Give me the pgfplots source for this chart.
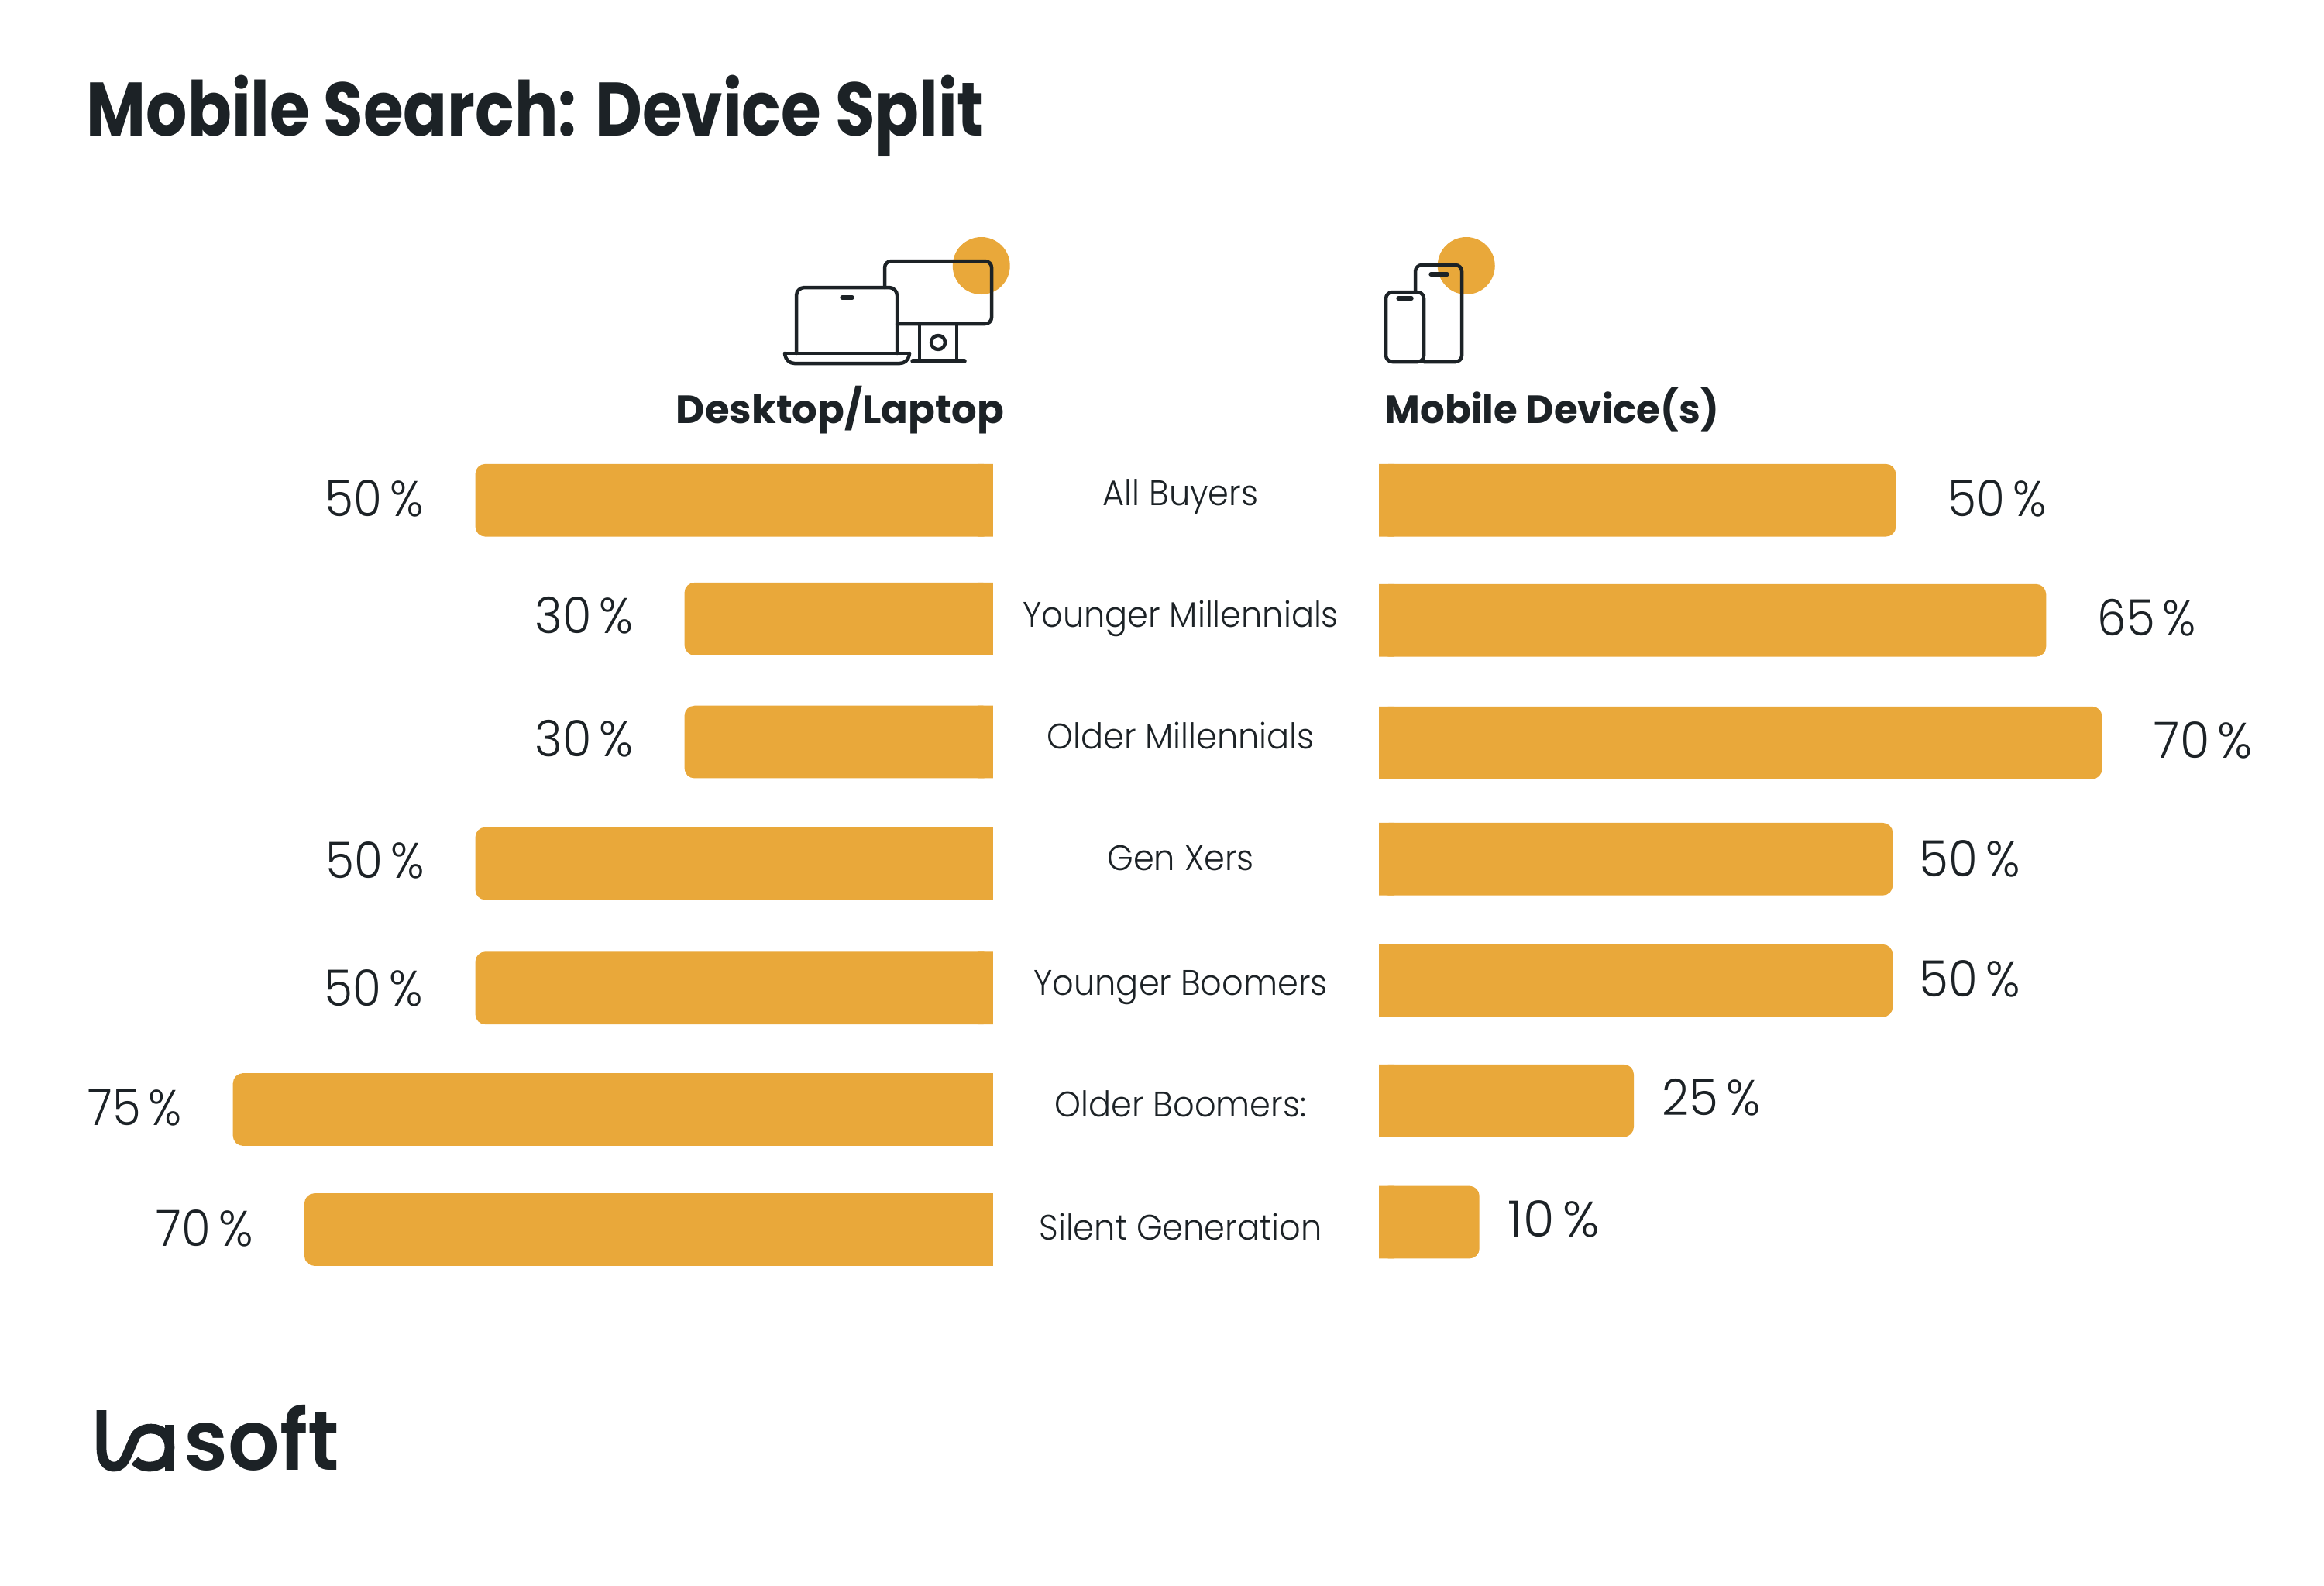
\documentclass[border=0pt]{standalone}
\usepackage{pgfplots}
\usepackage{pgfplotstable}
\usepackage{graphicx}
\usepackage{fontspec}
\pgfplotsset{compat=1.18}
\setmainfont{Poppins}
\newfontfamily\lightf{Poppins Light}
\newfontfamily\semif{Poppins SemiBold}
\definecolor{barc}{HTML}{E9A83A}
\definecolor{ink}{HTML}{1C2226}
\pgfplotstableread{
y v
645.7 50
798.8 29.8
957.6 29.8
1114.5 50
1275.2 50
1432 73.4
1587 66.5
}\leftdata
\pgfplotstableread{
y v
645.7 49.9
800.7 64.4
958.6 69.8
1108.8 49.6
1265.7 49.6
1420.6 24.6
1577.5 9.7
}\rightdata
\newcommand\fit[2]{\resizebox{\dimexpr 0.24pt*#1\relax}{\height}{#2}}
\newcommand\val[4]{\node[anchor=base west,inner sep=0pt,text=ink] at (#1,#2) {\fit{#3}{\lightf\fontsize{15.5pt}{18pt}\selectfont #4}};}
\newcommand\cat[2]{\node[anchor=base,inner sep=0pt,text=ink] at (1524,#1) {\scalebox{0.94}[1]{\lightf\fontsize{11pt}{13pt}\selectfont #2}};}
\pgfplotsset{barax/.style={scale only axis,hide axis,height=336pt,ymin=300,ymax=1700,y dir=reverse,xmin=0,clip=false,anchor=south west}}
\begin{document}
\begin{tikzpicture}
\useasboundingbox (0,0) rectangle (720pt,491.04pt);
\begin{axis}[barax,at={(2.88pt,83.04pt)},width=304.8pt,xmax=95,x dir=reverse]
\addplot[xbar,bar width=22.5pt,bar shift=0pt,fill=barc,draw=none,rounded corners=3.1pt] table[x=v,y=y]{\leftdata};
\addplot[xbar,bar width=22.5pt,bar shift=0pt,fill=barc,draw=none] table[x expr={min(\thisrow{v},1.5)},y=y]{\leftdata};
\end{axis}
\begin{axis}[barax,at={(427.2pt,83.04pt)},width=288.86pt,xmax=90]
\addplot[xbar,bar width=22.5pt,bar shift=0pt,fill=barc,draw=none,rounded corners=3.1pt] table[x=v,y=y]{\rightdata};
\addplot[xbar,bar width=22.5pt,bar shift=0pt,fill=barc,draw=none] table[x expr={min(\thisrow{v},1.5)},y=y]{\rightdata};
\end{axis}
\begin{scope}[x=0.24pt,y=-0.24pt,yshift=491.04pt]
% title and headers
\node[anchor=base west,inner sep=0pt,text=ink] at (111,176) {\fit{1158}{\bfseries\fontsize{23.5pt}{28pt}\selectfont Mobile Search: Device Split}};
\node[anchor=base west,inner sep=0pt,text=ink] at (872,546) {\fit{423}{\bfseries\fontsize{12.2pt}{15pt}\selectfont Desktop/Laptop}};
\node[anchor=base west,inner sep=0pt,text=ink] at (1787,546) {\fit{431}{\bfseries\fontsize{12.2pt}{15pt}\selectfont Mobile Device(s)}};
% categories
\cat{652}{All Buyers}
\cat{809}{Younger Millennials}
\cat{966}{Older Millennials}
\cat{1123}{Gen Xers}
\cat{1284}{Younger Boomers}
\cat{1441}{Older Boomers:}
\cat{1600}{Silent Generation}
% left values
\val{419}{666}{127}{50\,\%}
\val{690}{817}{127}{30\,\%}
\val{690}{976}{127}{30\,\%}
\val{420}{1133}{127}{50\,\%}
\val{418}{1298}{127}{50\,\%}
\val{113}{1452}{121}{75\,\%}
\val{201}{1608}{125}{70\,\%}
% right values
\val{2514}{666}{127}{50\,\%}
\val{2707}{820}{127}{65\,\%}
\val{2780}{978}{127}{70\,\%}
\val{2477}{1131}{130}{50\,\%}
\val{2477}{1286}{130}{50\,\%}
\val{2145}{1439}{127}{25\,\%}
\val{1946}{1596}{118}{10\,\%}
% icons
\fill[barc] (1266.7,343) circle (37);
\fill[barc] (1892.7,343) circle (37);
\begin{scope}[ink,line width=1.08pt,line cap=round,line join=round]
\draw[rounded corners=2pt] (1142,371) -- (1142,337) -- (1280,337) -- (1280,418) -- (1158,418);
\draw (1187,418) -- (1187,466) (1235,418) -- (1235,466);
\draw[line width=1.3pt] (1178,466) -- (1245,466);
\draw (1211,442) circle (9);
\draw[rounded corners=2.5pt] (1028,456) -- (1028,371) -- (1158,371) -- (1158,456);
\draw (1013,456) -- (1174,456);
\draw[rounded corners=2.5pt] (1013,456) -- (1015,469) -- (1172,469) -- (1174,456);
\draw[line width=1.3pt] (1087,384) -- (1100,384);
\draw[rounded corners=2pt] (1827,377) -- (1827,342) -- (1887,342) -- (1887,467) -- (1838,467);
\draw[rounded corners=2pt] (1789,377) rectangle (1838,467);
\draw[line width=1.3pt] (1847,354) -- (1868,354);
\draw[line width=1.3pt] (1805,385) -- (1822,385);
% logo: joined l and a
\draw[line width=3.05pt,line cap=butt] (131,1820) -- (131,1869)
  .. controls (131,1884) and (137,1893) .. (147,1893)
  .. controls (156,1893) and (160,1887) .. (164,1878) -- (175,1853)
  .. controls (180,1847) and (186,1844) .. (195,1844)
  .. controls (210,1844) and (219,1855) .. (219,1868)
  .. controls (219,1883) and (208,1893) .. (193,1893)
  .. controls (186,1893) and (180,1891) .. (174,1885);
\draw[line width=3.05pt,line cap=butt] (219,1839) -- (219,1898);
\end{scope}
\node[anchor=base west,inner sep=0pt,text=ink] at (237,1897) {\fit{200}{\semif\fontsize{26pt}{30pt}\selectfont soft}};
\end{scope}
\end{tikzpicture}
\end{document}
